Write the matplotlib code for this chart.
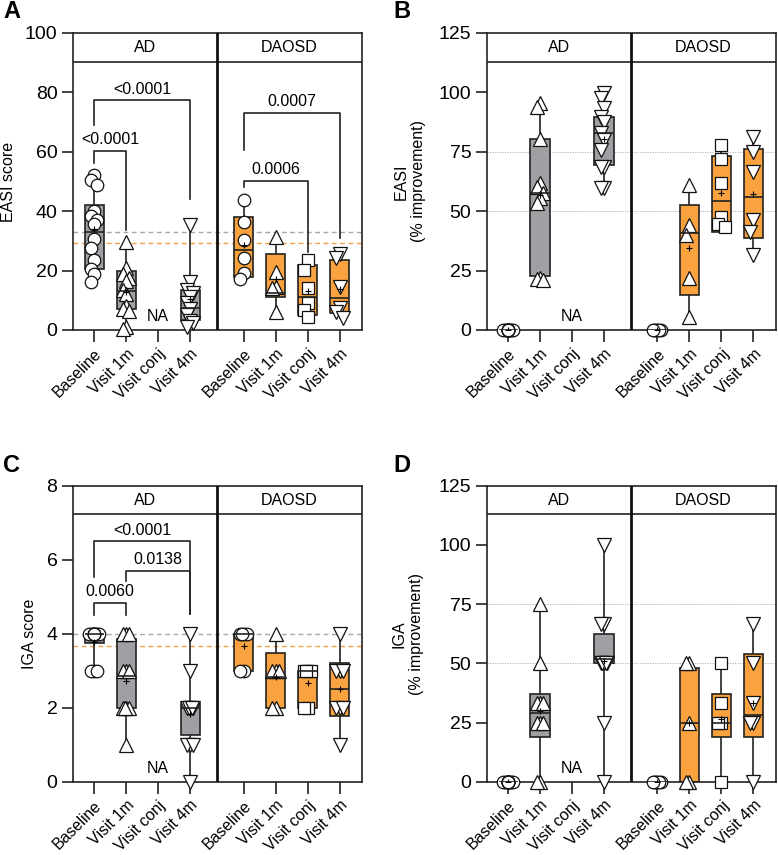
import numpy as np
import matplotlib
matplotlib.use("Agg")
import matplotlib.pyplot as plt
from matplotlib.transforms import blended_transform_factory

plt.rcParams["font.family"] = ["Liberation Sans", "DejaVu Sans"]

visits = ["Baseline", "Visit 1m", "Visit conj", "Visit 4m"]
cohorts = ["AD", "DAOSD"]
markers = ["o", "^", "s", "v"]

# ---- A: EASI score (conj visit not done in AD -> empty)
easi_ad = [
    [52.3, 50.5, 48.8, 40.0, 38.5, 37.0, 35.8, 30.5, 27.5, 23.6, 20.5, 19.0, 16.2],
    [29.5, 21.0, 19.0, 17.5, 16.5, 13.5, 12.0, 8.0, 7.0, 6.5, 1.0, 0.5],
    [],
    [35.5, 16.0, 13.5, 12.5, 11.0, 9.0, 7.0, 5.0, 3.0, 2.5, 1.0],
]
easi_ad_box = [(20.4, 33.1, 42.1), (7.0, 13.0, 20.0), None, (3.5, 7.5, 13.5)]
easi_daosd = [
    [43.8, 36.5, 30.3, 24.1, 19.1, 17.1],
    [31.4, 19.6, 14.4, 14.0, 6.2],
    [23.6, 20.2, 14.0, 9.0, 6.7, 4.3],
    [25.6, 24.1, 14.6, 7.5, 6.2, 4.0],
]
easi_daosd_box = [(17.9, 26.9, 37.9), (11.0, 12.3, 25.5), (5.1, 11.2, 21.9), (5.6, 10.9, 23.6)]
easi_refs = [33.0, 29.2]  # grey = AD baseline, orange = DAOSD baseline
easi_pvals = [
    (0, 1, 60.3, 56.1, 33.7, "<0.0001"),
    (0, 3, 77.4, 69.0, 44.0, "<0.0001"),
    (4, 6, 50.3, 48.3, 26.4, "0.0006"),
    (4, 7, 73.2, 60.6, 30.9, "0.0007"),
]

# ---- B: EASI % improvement
easi_imp_ad = [
    [0] * 13,
    [95.5, 94.0, 80.5, 62.0, 60.0, 57.5, 55.5, 53.5, 22.0, 21.5, 21.0],
    [],
    [99.6, 97.5, 93.3, 89.8, 87.7, 82.8, 80.0, 75.8, 68.5, 68.5, 59.6, 59.6],
]
easi_imp_ad_box = [(0, 0, 0), (22.6, 57.8, 80.5), None, (69.5, 83.0, 89.5)]
easi_imp_daosd = [
    [0] * 6,
    [61.0, 44.2, 40.0, 21.8, 5.6],
    [77.9, 71.8, 61.7, 47.7, 44.6, 43.5],
    [81.4, 75.0, 66.6, 46.3, 41.4, 31.6],
]
easi_imp_daosd_box = [(0, 0, 0), (14.7, 40.7, 52.6), (41.4, 54.3, 73.2), (38.6, 55.8, 76.0)]

# ---- C: IGA score
iga_ad = [
    [4, 4, 4, 4, 4, 4, 4, 4, 4, 4, 3, 3, 3],
    [4, 4, 4, 3, 3, 3, 2, 2, 2, 2, 1],
    [],
    [4, 3, 2, 2, 2, 2, 2, 1, 1, 1, 0],
]
iga_ad_box = [(3.76, 4.0, 4.0), (2.0, 2.85, 3.87), None, (1.27, 2.0, 2.1)]
iga_daosd = [
    [4, 4, 4, 4, 3, 3],
    [4, 3, 3, 3, 2, 2],
    [3, 3, 3, 3, 2, 2],
    [4, 3, 3, 3, 2, 2, 2, 1],
]
iga_daosd_box = [(3.0, 4.0, 4.0), (2.0, 2.82, 3.47), (2.0, 3.0, 3.0), (1.78, 2.5, 3.22)]
iga_refs = [4.0, 3.67]
iga_pvals = [
    (0, 3, 6.5, 5.54, 4.52, "<0.0001"),
    (1, 3, 5.7, 5.43, 4.52, "0.0138"),
    (0, 1, 4.84, 4.5, 4.5, "0.0060"),
]

# ---- D: IGA % improvement
iga_imp_ad = [
    [0] * 13,
    [75, 50, 33.3, 33.3, 33.3, 25, 25, 25, 0, 0],
    [],
    [100, 66.7, 66.7, 50, 50, 50, 50, 50, 25, 0],
]
iga_imp_ad_box = [(0, 0, 0), (19.0, 29.1, 37.0), None, (50.0, 52.0, 62.5)]
iga_imp_daosd = [
    [0] * 6,
    [50, 50, 25, 0, 0],
    [50, 33.3, 25, 25, 0],
    [66.7, 50, 33.3, 25, 25, 0],
]
iga_imp_daosd_box = [(0, 0, 0), (0.0, 25.0, 48.0), (19.0, 25.0, 37.0), (19.0, 28.2, 54.0)]

improve_refs = [75, 50]

# layout / style
POS = [0, 1, 2, 3, 4.67, 5.67, 6.67, 7.67]
XLIM = (-0.67, 8.37)
DIVIDER = 3.83
HEAD = 0.903
INK = "#222222"
FILL = {"AD": "#A0A0A4", "DAOSD": "#F9A23F"}
MS = {"o": 9.0, "^": 10.0, "s": 8.5, "v": 10.0}


def swarm(vals, d, step=0.1):
    vals = np.asarray(vals, float)
    pattern = [0, -1, 1, -0.5, 0.5, -1.5, 1.5]
    offs = np.zeros(len(vals))
    placed = []
    for i in np.argsort(-vals, kind="stable"):
        used = [offs[j] for j in placed if abs(vals[i] - vals[j]) < d]
        for p in pattern:
            if all(abs(p * step - u) > 1e-9 for u in used):
                offs[i] = p * step
                break
        placed.append(i)
    return offs


def draw_panel(ax, groups, ylim, yticks, ylabel, ylabel_x, refs=None,
               dotted=None, pvals=()):
    ymin, ymax = ylim
    d = 0.04 * (ymax - ymin)
    k = 0
    for cohort, vals_list, boxes in groups:
        for vi, (vals, box) in enumerate(zip(vals_list, boxes)):
            x = POS[k]
            k += 1
            if not vals:
                continue
            q1, med, q3 = box
            st = dict(med=med, q1=q1, q3=q3, whislo=min(vals), whishi=max(vals),
                      mean=float(np.mean(vals)), fliers=[])
            art = ax.bxp([st], positions=[x], widths=0.6, patch_artist=True,
                         showmeans=True, showcaps=False, showfliers=False,
                         manage_ticks=False, zorder=2,
                         boxprops=dict(facecolor=FILL[cohort], edgecolor=INK, linewidth=1.2),
                         whiskerprops=dict(color=INK, linewidth=1.2),
                         medianprops=dict(color=INK, linewidth=1.2),
                         meanprops=dict(marker="+", markeredgecolor="black",
                                        markersize=4, markeredgewidth=0.8))
            for w in art["whiskers"]:
                w.set_zorder(1.5)
            for m in art["medians"]:
                m.set_zorder(4)
            for m in art["means"]:
                m.set_zorder(5)
            mk = markers[vi]
            ax.plot(x + swarm(vals, d), vals, ls="", marker=mk, ms=MS[mk],
                    mfc="white", mec="#111111", mew=0.9, zorder=3, clip_on=False)

    if refs is not None:
        ax.axhline(refs[0], color="#A8A8A8", lw=1.0, dashes=(3.5, 2.5), zorder=1)
        ax.axhline(refs[1], color="#F6A04D", lw=1.0, dashes=(3.5, 2.5), zorder=1)
    if dotted is not None:
        for yv in dotted:
            ax.axhline(yv, color="#AAAAAA", lw=0.6, dashes=(1.5, 1.5), zorder=1)

    for i, j, top, left_end, right_end, txt in pvals:
        xi, xj = POS[i], POS[j]
        ax.plot([xi, xi, xj, xj], [left_end, top, top, right_end], color=INK,
                lw=1.2, zorder=2)
        ax.annotate(txt, xy=((xi + xj) / 2, top), xytext=(0, 8), textcoords="offset points",
                    ha="center", va="center", fontsize=11.5)

    trans = blended_transform_factory(ax.transData, ax.transAxes)
    ax.text(POS[2], 0.045, "NA", transform=trans, ha="center", va="center", fontsize=11.5)

    # header strip
    hb = ymin + HEAD * (ymax - ymin)
    ax.axhline(hb, color=INK, lw=1.2, zorder=6)
    ax.axvline(DIVIDER, color="#111111", lw=2.0, zorder=6)
    ax.text((XLIM[0] + DIVIDER) / 2, (1 + HEAD) / 2, cohorts[0], transform=trans,
            ha="center", va="center", fontsize=11.5)
    ax.text((DIVIDER + XLIM[1]) / 2, (1 + HEAD) / 2, cohorts[1], transform=trans,
            ha="center", va="center", fontsize=11.5)

    ax.set_xlim(*XLIM)
    ax.set_ylim(ymin, ymax)
    ax.set_yticks(yticks)
    ax.set_xticks(POS)
    ax.set_xticklabels(visits * 2, rotation=45, ha="right", va="top",
                       rotation_mode="anchor", fontsize=11.5)
    ax.tick_params(axis="y", labelsize=14, length=8, width=1.2, color=INK, pad=3)
    ax.tick_params(axis="x", length=8.5, width=1.2, color=INK, pad=3)
    for s in ax.spines.values():
        s.set_linewidth(1.2)
        s.set_color(INK)
    ax.text(ylabel_x, 0.5, ylabel, transform=ax.transAxes, rotation=90,
            ha="center", va="center", fontsize=11.5, linespacing=1.2)


fig = plt.figure(figsize=(7.78, 8.55), dpi=100)
W, H = 778, 855
axA = fig.add_axes([72.7 / W, 1 - 330 / H, 289.3 / W, 297 / H])
axB = fig.add_axes([486.7 / W, 1 - 330 / H, 289 / W, 297 / H])
axC = fig.add_axes([72.7 / W, 1 - 781.7 / H, 289.3 / W, 296 / H])
axD = fig.add_axes([486.7 / W, 1 - 781.7 / H, 289 / W, 296 / H])

draw_panel(axA, [("AD", easi_ad, easi_ad_box), ("DAOSD", easi_daosd, easi_daosd_box)],
           (0, 100), [0, 20, 40, 60, 80, 100], "EASI score", -0.223,
           refs=easi_refs, pvals=easi_pvals)
draw_panel(axB, [("AD", easi_imp_ad, easi_imp_ad_box),
                 ("DAOSD", easi_imp_daosd, easi_imp_daosd_box)],
           (0, 125), [0, 25, 50, 75, 100, 125], "EASI\n(% improvement)", -0.267,
           dotted=improve_refs)
draw_panel(axC, [("AD", iga_ad, iga_ad_box), ("DAOSD", iga_daosd, iga_daosd_box)],
           (0, 8), [0, 2, 4, 6, 8], "IGA score", -0.150,
           refs=iga_refs, pvals=iga_pvals)
draw_panel(axD, [("AD", iga_imp_ad, iga_imp_ad_box),
                 ("DAOSD", iga_imp_daosd, iga_imp_daosd_box)],
           (0, 125), [0, 25, 50, 75, 100, 125], "IGA\n(% improvement)", -0.272,
           dotted=improve_refs)

for lbl, x, y in [("A", 3, 0.5), ("B", 393, 0.5), ("C", 3, 453.5), ("D", 393, 453.5)]:
    fig.text(x / W, 1 - y / H, lbl, fontsize=17, fontweight="bold", va="top", ha="left")

fig.savefig("out.png", dpi=100)
